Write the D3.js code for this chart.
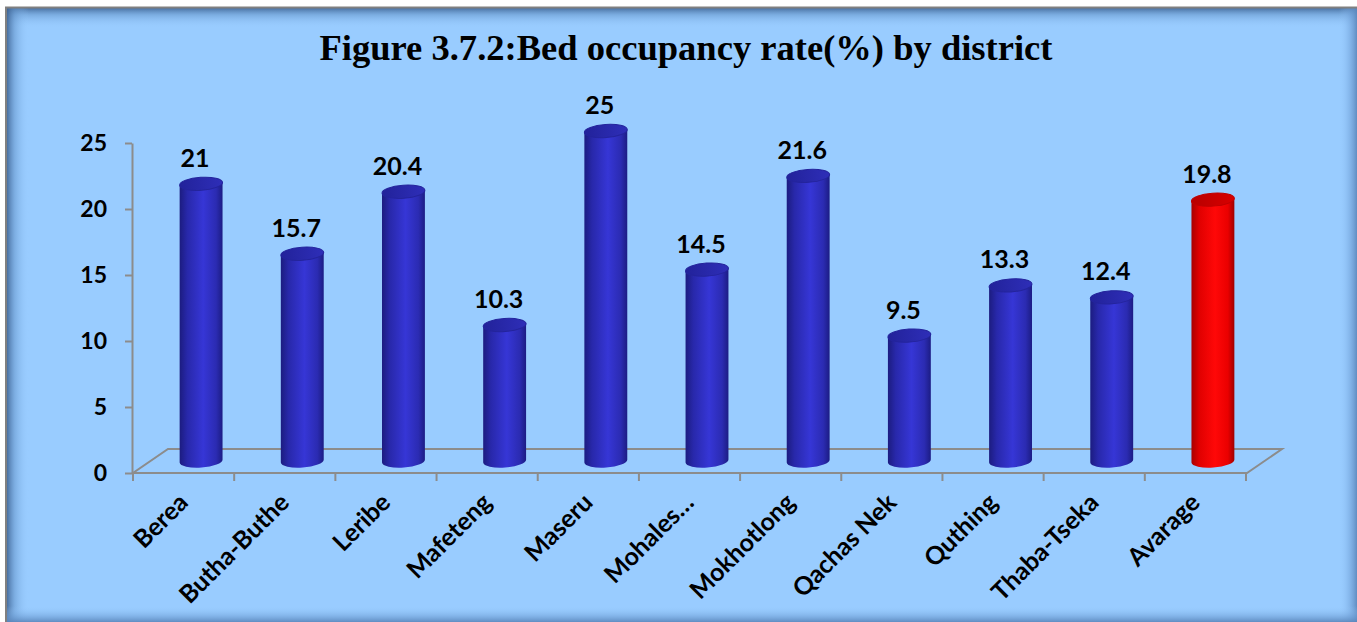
<!DOCTYPE html>
<html>
<head>
<meta charset="utf-8">
<script src="https://cdn.jsdelivr.net/npm/d3@7"></script>
<style>
  html, body { margin: 0; padding: 0; background: #ffffff; }
  svg { display: block; }
</style>
</head>
<body>
<svg id="chart" width="1357" height="622"></svg>
<script>
const title = "Figure 3.7.2:Bed occupancy rate(%) by district";
const categories = ["Berea", "Butha-Buthe", "Leribe", "Mafeteng", "Maseru", "Mohales…", "Mokhotlong", "Qachas Nek", "Quthing", "Thaba-Tseka", "Avarage"];
const values = [21, 15.7, 20.4, 10.3, 25, 14.5, 21.6, 9.5, 13.3, 12.4, 19.8];
const yTicks = [0, 5, 10, 15, 20, 25];
const highlighted = ["Avarage"];

const W = 1357, H = 622;
const svg = d3.select("#chart");
const defs = svg.append("defs");

function linGrad(id, x1, y1, x2, y2, stops) {
  const g = defs.append("linearGradient").attr("id", id)
    .attr("x1", x1).attr("y1", y1).attr("x2", x2).attr("y2", y2);
  stops.forEach(s => g.append("stop").attr("offset", s[0]).attr("stop-color", s[1]).attr("stop-opacity", s[2]));
}
linGrad("shTop", 0, 0, 0, 1, [[0, "#3a5f8f", 0.85], [0.35, "#5f8fc4", 0.5], [1, "#99ccff", 0]]);
linGrad("shLeft", 0, 0, 1, 0, [[0, "#3a5f8f", 0.85], [0.35, "#5f8fc4", 0.5], [1, "#99ccff", 0]]);
linGrad("shRight", 0, 0, 1, 0, [[0, "#99ccff", 0], [0.6, "#6f9fd6", 0.5], [1, "#5a86bb", 0.9]]);
linGrad("shBottom", 0, 0, 0, 1, [[0, "#99ccff", 0], [0.6, "#6f9fd6", 0.5], [1, "#5a86bb", 0.9]]);

linGrad("bodyBlue", 0, 0, 1, 0, [[0, "#1c1c80", 1], [0.18, "#2828aa", 1], [0.55, "#3636d6", 1], [0.85, "#2b2bb2", 1], [1, "#1c1c84", 1]]);
linGrad("bodyRed", 0, 0, 1, 0, [[0, "#a80000", 1], [0.18, "#e00000", 1], [0.55, "#ff0808", 1], [0.85, "#ea0000", 1], [1, "#a00000", 1]]);
linGrad("topBlue", 0, 0, 1, 0, [[0, "#22229a", 1], [1, "#2e2eb8", 1]]);
linGrad("topRed", 0, 0, 1, 0, [[0, "#b80000", 1], [1, "#d80000", 1]]);

// background & frame
svg.append("rect").attr("x", 6).attr("y", 7).attr("width", W - 6).attr("height", H - 7).attr("fill", "#99ccff");
svg.append("rect").attr("x", 7).attr("y", 8).attr("width", W - 7).attr("height", 20).attr("fill", "url(#shTop)");
svg.append("rect").attr("x", 7).attr("y", 8).attr("width", 22).attr("height", H - 8).attr("fill", "url(#shLeft)");
svg.append("rect").attr("x", W - 18).attr("y", 8).attr("width", 18).attr("height", H - 8).attr("fill", "url(#shRight)");
svg.append("rect").attr("x", 7).attr("y", H - 16).attr("width", W - 7).attr("height", 16).attr("fill", "url(#shBottom)");
svg.append("line").attr("x1", 5).attr("x2", W).attr("y1", 7.5).attr("y2", 7.5).attr("stroke", "#808080").attr("stroke-width", 2);
svg.append("line").attr("x1", 6).attr("x2", 6).attr("y1", 7).attr("y2", H).attr("stroke", "#808080").attr("stroke-width", 2);

// title
svg.append("text")
  .attr("x", 686).attr("y", 60)
  .attr("text-anchor", "middle")
  .attr("font-family", "'Liberation Serif', 'DejaVu Serif', serif")
  .attr("font-weight", "bold")
  .attr("font-size", 35)
  .attr("textLength", 733).attr("lengthAdjust", "spacingAndGlyphs")
  .attr("fill", "#000")
  .text(title);

// scales
const depthX = 35, depthY = 24;
const y = d3.scaleLinear().domain([0, 25]).range([473, 143]);
const x = d3.scaleBand().domain(categories).range([133, 1246]).padding(0);
const bw = x.bandwidth();

const grid = "#8c8c8c";
const fontSans = "Lato, 'Open Sans', sans-serif";

// floor
const y0 = y(0);
const floorPts = [[133, y0], [1247, y0], [1247 + depthX, y0 - depthY], [133 + depthX, y0 - depthY]];
svg.append("path")
  .attr("d", d3.line()(floorPts) + "Z")
  .attr("fill", "none").attr("stroke", grid).attr("stroke-width", 2);

// y axis
const yAxis = d3.axisLeft(y).tickValues(yTicks).tickSize(7).tickPadding(18).tickSizeOuter(0);
const gy = svg.append("g").attr("transform", "translate(132,0)").call(yAxis);
gy.select(".domain").attr("stroke", grid).attr("stroke-width", 2);
gy.selectAll(".tick line").attr("stroke", grid).attr("stroke-width", 2);
gy.selectAll(".tick text")
  .attr("font-family", fontSans).attr("font-weight", "bold").attr("font-size", 23).attr("fill", "#000");

// x ticks
const tickXs = categories.map(c => x(c)).concat([x.range()[1]]);
svg.append("g").selectAll("line").data(tickXs).join("line")
  .attr("x1", d => d).attr("x2", d => d)
  .attr("y1", y0).attr("y2", y0 + 8)
  .attr("stroke", grid).attr("stroke-width", 2);

// bars (cylinders)
const rx = 21.5, ry = 6.5, tilt = -4;
const tr = tilt * Math.PI / 180;
const data = categories.map((c, i) => ({ c, v: values[i], hi: highlighted.includes(c) }));
const bars = svg.append("g").selectAll("g").data(data).join("g");
bars.each(function (d) {
  const g = d3.select(this);
  const cx = x(d.c) + bw / 2 + depthX / 2;
  const yb = y(0) - depthY / 2;
  const yt = y(d.v) - depthY / 2;
  const dxE = rx * Math.cos(tr), dyE = rx * Math.sin(tr);
  const p = d3.path();
  p.moveTo(cx - dxE, yt - dyE);
  p.lineTo(cx - dxE, yb - dyE);
  const body = p.toString() +
    `A${rx},${ry} ${tilt} 0 0 ${cx + dxE},${yb + dyE}` +
    `L${cx + dxE},${yt + dyE}Z`;
  g.append("path").attr("d", body).attr("fill", d.hi ? "url(#bodyRed)" : "url(#bodyBlue)");
  g.append("ellipse")
    .attr("cx", cx).attr("cy", yt).attr("rx", rx).attr("ry", ry)
    .attr("transform", `rotate(${tilt},${cx},${yt})`)
    .attr("fill", d.hi ? "url(#topRed)" : "url(#topBlue)")
    .attr("stroke", d.hi ? "#c00000" : "#24249c").attr("stroke-width", 1);
  g.append("text")
    .attr("x", cx - 6).attr("y", yt - 17)
    .attr("text-anchor", "middle")
    .attr("font-family", fontSans).attr("font-weight", "bold").attr("font-size", 25)
    .attr("fill", "#000")
    .text(d.v);
});

// x labels
svg.append("g").selectAll("text").data(categories).join("text")
  .attr("transform", c => `translate(${x(c) + bw / 2 + 6},${y0 + 31}) rotate(-45)`)
  .attr("text-anchor", "end")
  .attr("font-family", fontSans).attr("font-weight", "bold").attr("font-size", 25)
  .attr("fill", "#000")
  .text(c => c);
</script>
</body>
</html>
